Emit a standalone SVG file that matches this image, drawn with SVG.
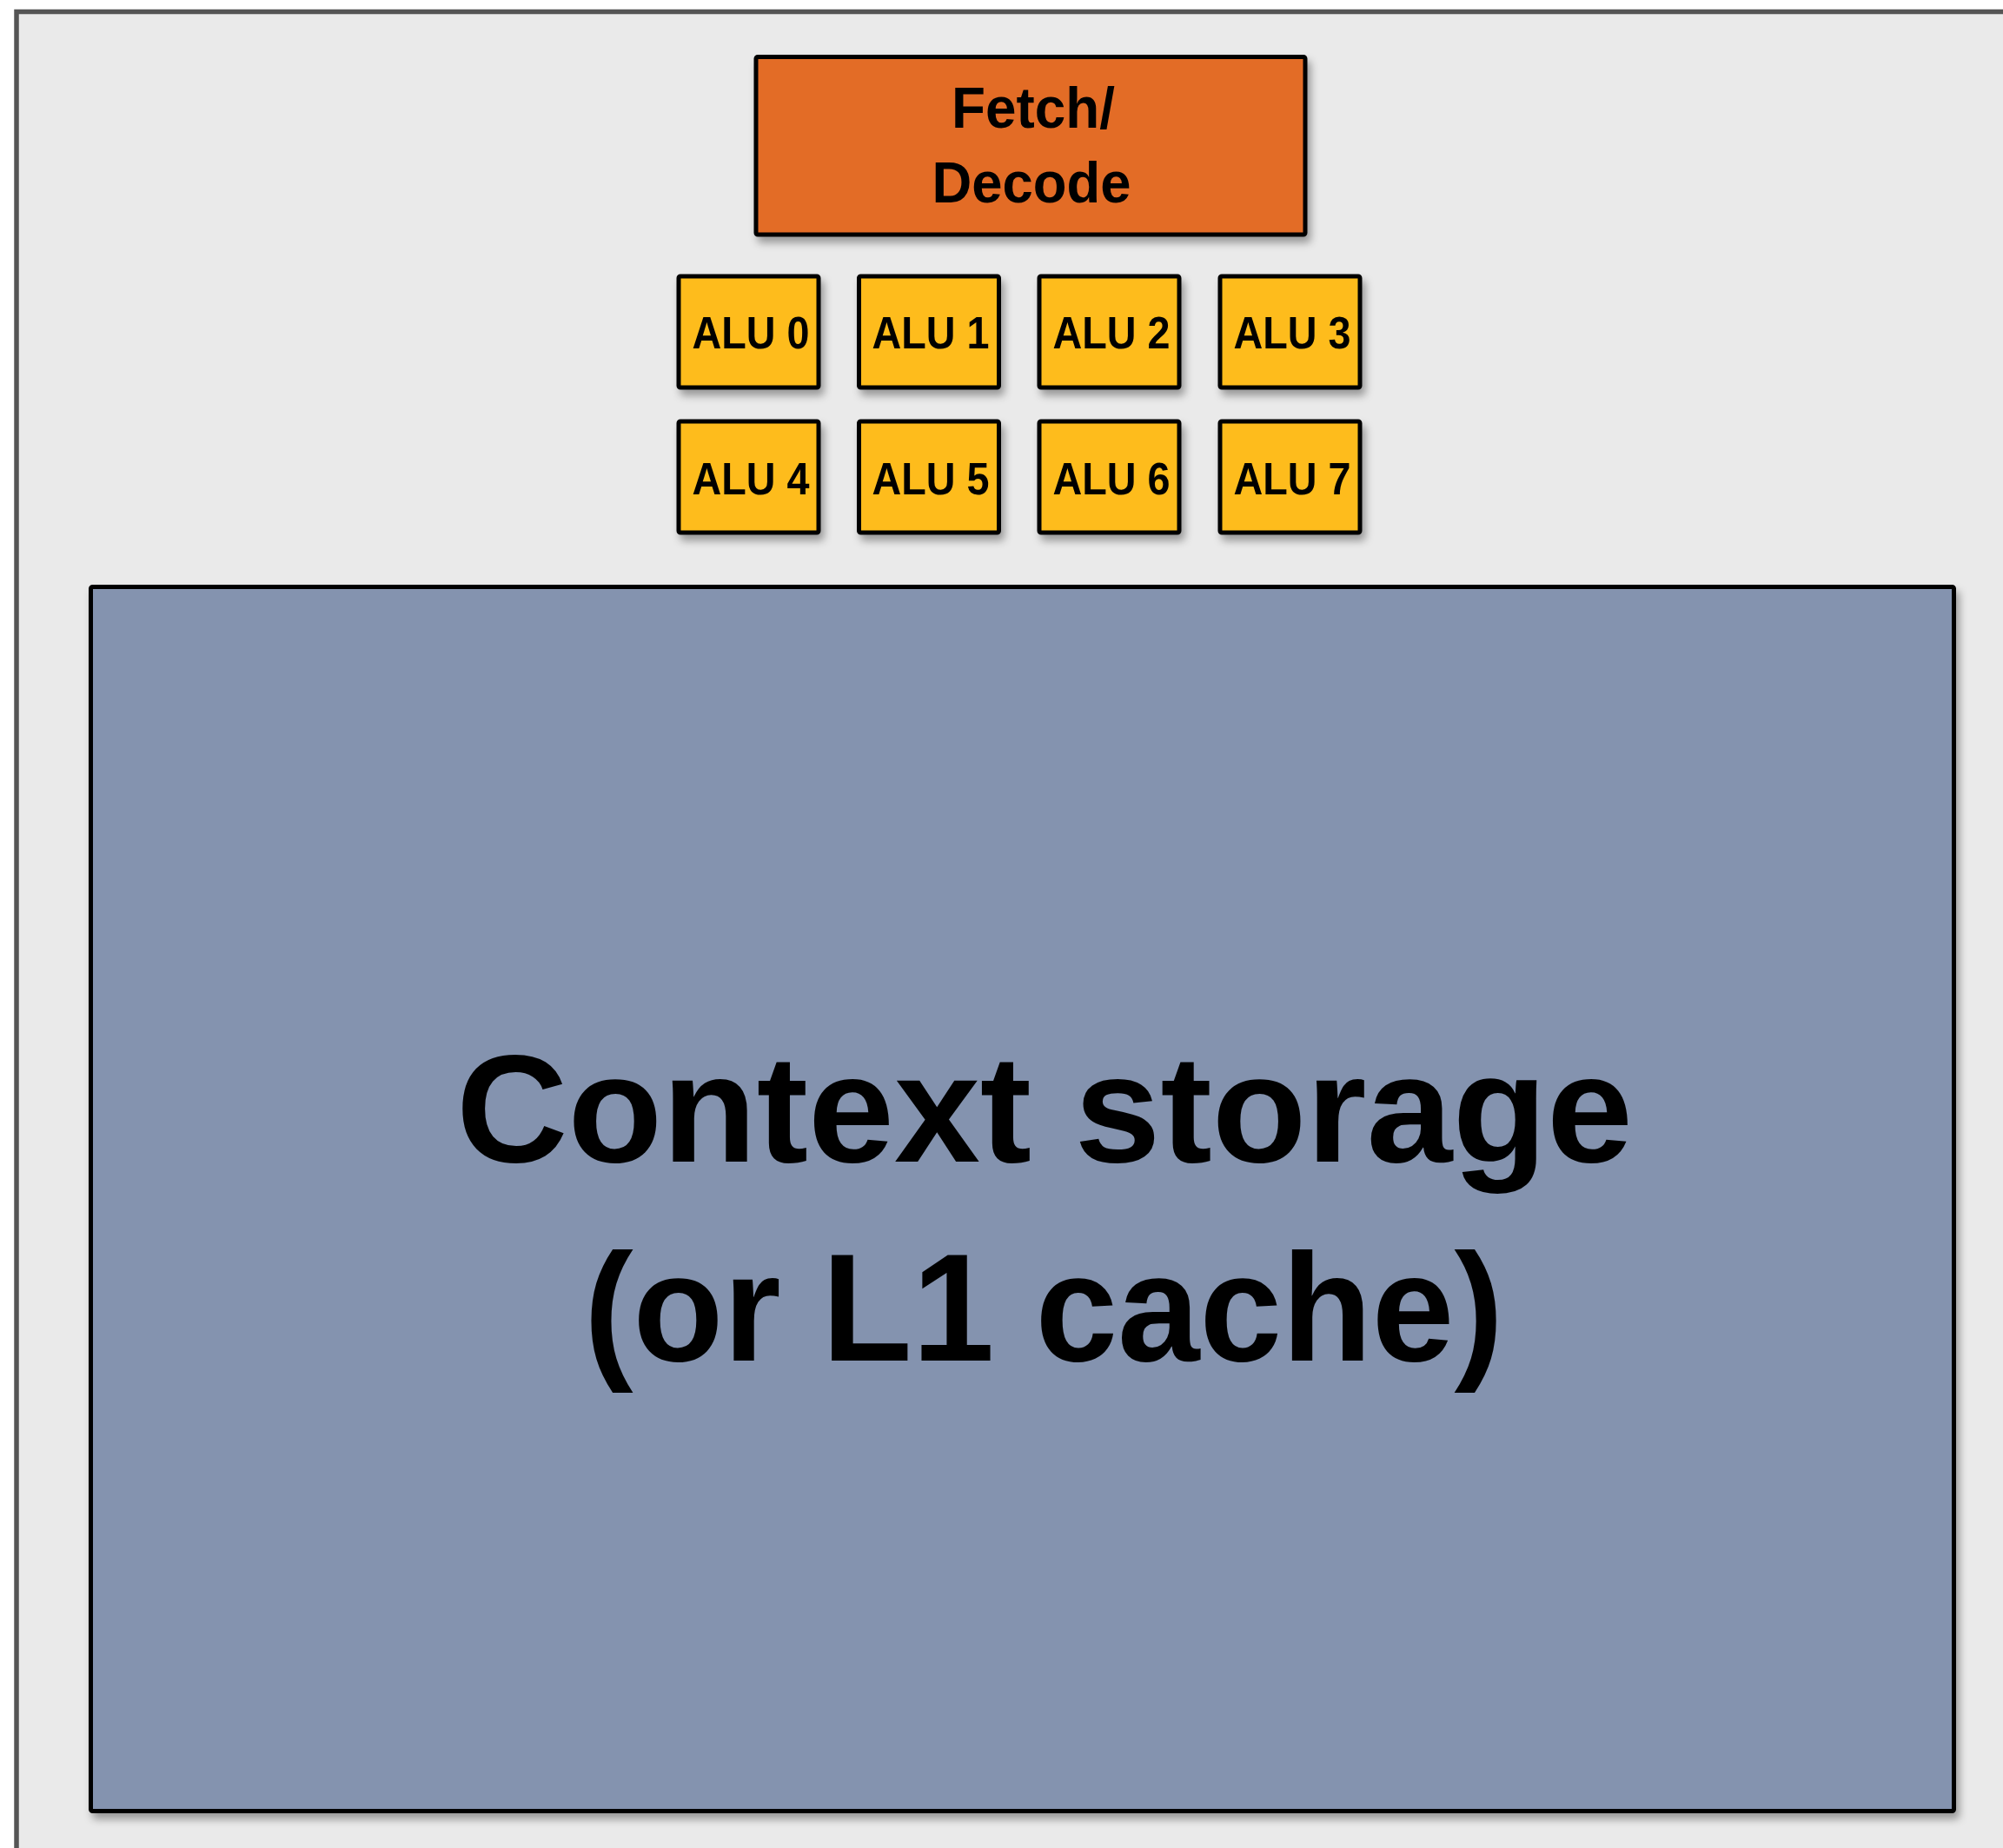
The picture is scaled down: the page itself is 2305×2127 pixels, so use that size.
<svg xmlns="http://www.w3.org/2000/svg" width="2305" height="2127" viewBox="0 0 2305 2127">
<defs>
<filter id="sh" x="-10%" y="-10%" width="130%" height="130%">
<feDropShadow dx="4" dy="7" stdDeviation="5" flood-color="#000" flood-opacity="0.35"/>
</filter>
</defs>
<style>
.lbl{font-family:"Liberation Sans",Arial,sans-serif;font-weight:bold;fill:#000;text-anchor:middle}
.box{stroke:#000;stroke-width:5}
.alu{fill:#FEBC1C}
</style>
<rect width="2305" height="2127" fill="#FFFFFF"/>
<g id="core">
<rect x="19" y="13.5" width="2400" height="2300" fill="#EAEAEA" stroke="#555555" stroke-width="5.5"/>
</g>
<g id="fetch-decode">
<rect class="box" x="870" y="65.5" width="632" height="204.5" rx="2" fill="#E36C25" filter="url(#sh)"/>
<text class="lbl" x="1189" y="147" font-size="66" textLength="188" lengthAdjust="spacingAndGlyphs">Fetch/</text>
<text class="lbl" x="1187" y="233" font-size="66" textLength="229" lengthAdjust="spacingAndGlyphs">Decode</text>
</g>
<g id="alu0"><rect class="box alu" x="781" y="318" width="161" height="128" rx="2" filter="url(#sh)"/><text class="lbl" x="864" y="401" font-size="52" textLength="135" lengthAdjust="spacingAndGlyphs">ALU 0</text></g>
<g id="alu1"><rect class="box alu" x="988.5" y="318" width="161" height="128" rx="2" filter="url(#sh)"/><text class="lbl" x="1071" y="401" font-size="52" textLength="135" lengthAdjust="spacingAndGlyphs">ALU 1</text></g>
<g id="alu2"><rect class="box alu" x="1196" y="318" width="161" height="128" rx="2" filter="url(#sh)"/><text class="lbl" x="1279" y="401" font-size="52" textLength="135" lengthAdjust="spacingAndGlyphs">ALU 2</text></g>
<g id="alu3"><rect class="box alu" x="1404" y="318" width="161" height="128" rx="2" filter="url(#sh)"/><text class="lbl" x="1487" y="401" font-size="52" textLength="135" lengthAdjust="spacingAndGlyphs">ALU 3</text></g>
<g id="alu4"><rect class="box alu" x="781" y="485" width="161" height="128" rx="2" filter="url(#sh)"/><text class="lbl" x="864" y="569" font-size="52" textLength="135" lengthAdjust="spacingAndGlyphs">ALU 4</text></g>
<g id="alu5"><rect class="box alu" x="988.5" y="485" width="161" height="128" rx="2" filter="url(#sh)"/><text class="lbl" x="1071" y="569" font-size="52" textLength="135" lengthAdjust="spacingAndGlyphs">ALU 5</text></g>
<g id="alu6"><rect class="box alu" x="1196" y="485" width="161" height="128" rx="2" filter="url(#sh)"/><text class="lbl" x="1279" y="569" font-size="52" textLength="135" lengthAdjust="spacingAndGlyphs">ALU 6</text></g>
<g id="alu7"><rect class="box alu" x="1404" y="485" width="161" height="128" rx="2" filter="url(#sh)"/><text class="lbl" x="1487" y="569" font-size="52" textLength="135" lengthAdjust="spacingAndGlyphs">ALU 7</text></g>
<g id="context-storage">
<rect class="box" x="104.5" y="675.5" width="2144" height="1409" rx="2" fill="#8493AF" filter="url(#sh)"/>
<text class="lbl" x="1202" y="1337" font-size="176" textLength="1354" lengthAdjust="spacingAndGlyphs">Context storage</text>
<text class="lbl" x="1201" y="1566" font-size="176" textLength="1058" lengthAdjust="spacingAndGlyphs">(or L1 cache)</text>
</g>
<g id="connectors"/>
</svg>
